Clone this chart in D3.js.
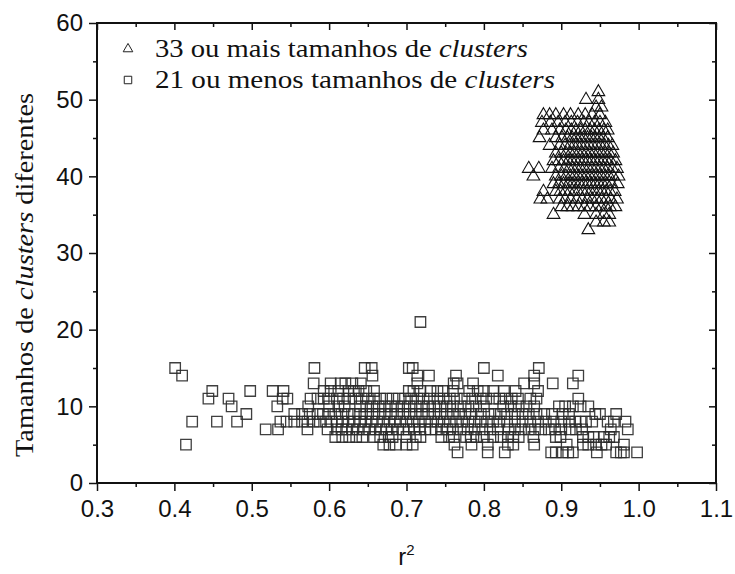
<!DOCTYPE html>
<html>
<head>
<meta charset="utf-8">
<script src="https://cdn.jsdelivr.net/npm/d3@7"></script>
<style>
  body { margin: 0; background: #fff; }
  .tick text { font-family: 'Liberation Sans', Arial, sans-serif; font-size: 24px; fill: #111; }
  .serif { font-family: 'Liberation Serif', 'Times New Roman', serif; fill: #111; }
</style>
</head>
<body>
<svg id="chart"></svg>
<script>
// cluster counts (y) and the r2 values (x) of every run, grouped by count
const squareSizes = [4, 5, 6, 7, 8, 9, 10, 11, 12, 13, 14, 15, 21];
const squareR2 = [
  [0.766, 0.805, 0.827, 0.887, 0.893, 0.902, 0.909, 0.915, 0.946, 0.971, 0.977, 0.981, 0.998],
  [0.415, 0.67, 0.678, 0.686, 0.700, 0.708, 0.762, 0.784, 0.805, 0.831, 0.838, 0.865, 0.907, 0.928, 0.935, 0.945, 0.952, 0.958, 0.981],
  [0.608, 0.617, 0.626, 0.635, 0.643, 0.658, 0.666, 0.677, 0.682, 0.700, 0.712, 0.718, 0.745, 0.755, 0.761, 0.777, 0.783, 0.790, 0.800, 0.812, 0.822, 0.831, 0.838, 0.845, 0.864, 0.893, 0.899, 0.928, 0.935, 0.942, 0.955, 0.962, 0.968],
  [0.518, 0.534, 0.572, 0.598, 0.610, 0.616, 0.622, 0.630, 0.637, 0.645, 0.652, 0.660, 0.667, 0.674, 0.681, 0.689, 0.696, 0.703, 0.710, 0.717, 0.724, 0.731, 0.738, 0.746, 0.753, 0.760, 0.770, 0.779, 0.788, 0.798, 0.808, 0.818, 0.832, 0.840, 0.848, 0.858, 0.866, 0.874, 0.884, 0.892, 0.900, 0.911, 0.919, 0.927, 0.964, 0.986],
  [0.423, 0.455, 0.481, 0.537, 0.545, 0.555, 0.565, 0.572, 0.580, 0.588, 0.596, 0.603, 0.610, 0.617, 0.625, 0.632, 0.640, 0.647, 0.655, 0.662, 0.670, 0.678, 0.685, 0.692, 0.700, 0.708, 0.716, 0.724, 0.732, 0.740, 0.748, 0.756, 0.764, 0.772, 0.780, 0.788, 0.796, 0.804, 0.812, 0.820, 0.830, 0.840, 0.850, 0.860, 0.870, 0.880, 0.890, 0.900, 0.910, 0.918, 0.925, 0.932, 0.940, 0.960, 0.968, 0.983],
  [0.493, 0.555, 0.565, 0.575, 0.585, 0.592, 0.600, 0.608, 0.616, 0.624, 0.632, 0.640, 0.648, 0.656, 0.664, 0.672, 0.680, 0.688, 0.696, 0.704, 0.712, 0.720, 0.728, 0.736, 0.744, 0.752, 0.760, 0.768, 0.776, 0.784, 0.796, 0.806, 0.814, 0.822, 0.830, 0.840, 0.850, 0.858, 0.868, 0.878, 0.888, 0.902, 0.910, 0.944, 0.950, 0.971],
  [0.474, 0.533, 0.573, 0.600, 0.612, 0.620, 0.640, 0.648, 0.656, 0.664, 0.672, 0.680, 0.688, 0.696, 0.704, 0.712, 0.720, 0.728, 0.736, 0.744, 0.752, 0.760, 0.770, 0.780, 0.790, 0.800, 0.825, 0.835, 0.845, 0.855, 0.865, 0.897, 0.905, 0.915, 0.925, 0.935],
  [0.444, 0.470, 0.540, 0.546, 0.576, 0.585, 0.593, 0.600, 0.610, 0.618, 0.626, 0.634, 0.642, 0.650, 0.658, 0.666, 0.674, 0.682, 0.690, 0.698, 0.706, 0.714, 0.722, 0.730, 0.740, 0.748, 0.756, 0.765, 0.775, 0.785, 0.796, 0.803, 0.812, 0.820, 0.828, 0.836, 0.844, 0.860, 0.868, 0.922],
  [0.449, 0.498, 0.527, 0.541, 0.593, 0.602, 0.612, 0.625, 0.632, 0.638, 0.648, 0.658, 0.703, 0.709, 0.718, 0.731, 0.740, 0.748, 0.760, 0.781, 0.792, 0.800, 0.812, 0.826, 0.841, 0.870],
  [0.580, 0.602, 0.615, 0.621, 0.630, 0.641, 0.714, 0.761, 0.766, 0.786, 0.852, 0.865, 0.889, 0.915],
  [0.410, 0.656, 0.714, 0.729, 0.764, 0.818, 0.865, 0.922],
  [0.401, 0.581, 0.646, 0.655, 0.703, 0.708, 0.800, 0.871],
  [0.718]
];

const triangleSizes = [33, 34, 35, 36, 37, 38, 39, 40, 41, 42, 43, 44, 45, 46, 47, 48, 49, 50, 51];
const triangleR2 = [
  [0.935],
  [0.945, 0.955, 0.962],
  [0.890, 0.930, 0.945, 0.955, 0.962],
  [0.900, 0.908, 0.915, 0.922, 0.930, 0.937, 0.945, 0.952, 0.958, 0.963, 0.970],
  [0.873, 0.882, 0.898, 0.905, 0.912, 0.920, 0.927, 0.934, 0.940, 0.946, 0.952, 0.958, 0.964, 0.972],
  [0.877, 0.893, 0.899, 0.905, 0.911, 0.917, 0.922, 0.928, 0.933, 0.938, 0.943, 0.948, 0.953, 0.958, 0.963, 0.969],
  [0.890, 0.897, 0.903, 0.909, 0.914, 0.919, 0.924, 0.929, 0.934, 0.939, 0.944, 0.949, 0.954, 0.959, 0.965, 0.973],
  [0.864, 0.893, 0.900, 0.906, 0.912, 0.917, 0.922, 0.927, 0.932, 0.937, 0.942, 0.947, 0.952, 0.957, 0.962, 0.967, 0.974],
  [0.858, 0.871, 0.888, 0.897, 0.904, 0.910, 0.915, 0.920, 0.925, 0.930, 0.935, 0.940, 0.945, 0.950, 0.955, 0.960, 0.966, 0.972],
  [0.890, 0.897, 0.903, 0.909, 0.914, 0.919, 0.924, 0.929, 0.934, 0.939, 0.944, 0.949, 0.954, 0.959, 0.964, 0.970],
  [0.893, 0.900, 0.906, 0.912, 0.917, 0.922, 0.927, 0.932, 0.937, 0.942, 0.947, 0.952, 0.957, 0.962, 0.967],
  [0.885, 0.898, 0.905, 0.911, 0.916, 0.921, 0.926, 0.931, 0.936, 0.941, 0.946, 0.951, 0.956, 0.961, 0.966],
  [0.872, 0.893, 0.901, 0.908, 0.914, 0.919, 0.924, 0.929, 0.934, 0.939, 0.944, 0.949, 0.954, 0.960],
  [0.877, 0.888, 0.898, 0.906, 0.913, 0.919, 0.925, 0.931, 0.937, 0.943, 0.949, 0.955, 0.960],
  [0.875, 0.886, 0.896, 0.905, 0.913, 0.921, 0.929, 0.936, 0.943, 0.950, 0.957],
  [0.877, 0.885, 0.893, 0.903, 0.912, 0.922, 0.931, 0.940, 0.950],
  [0.945, 0.952],
  [0.932, 0.948],
  [0.948]
];

const xTicks = [0.3, 0.4, 0.5, 0.6, 0.7, 0.8, 0.9, 1.0, 1.1];
const yTicks = [0, 10, 20, 30, 40, 50, 60];
const legendLabels = ['33 ou mais tamanhos de ', '21 ou menos tamanhos de '];

const width = 735, height = 574;
const margin = { top: 23, right: 19, bottom: 91, left: 97 };
const innerW = width - margin.left - margin.right;
const innerH = height - margin.top - margin.bottom;

const svg = d3.select('#chart').attr('width', width).attr('height', height);
svg.append('rect').attr('width', width).attr('height', height).attr('fill', '#fff');

const g = svg.append('g').attr('transform', `translate(${margin.left},${margin.top})`);

const x = d3.scaleLinear().domain([0.3, 1.1]).range([0, innerW]);
const y = d3.scaleLinear().domain([0, 60]).range([innerH, 0]);

const xMinor = d3.range(0.35, 1.1, 0.1);
const yMinor = d3.range(5, 60, 10);

// points
const squares = squareSizes.flatMap((s, i) => squareR2[i].map(r => ({ r2: r, n: s })));
const triangles = triangleSizes.flatMap((s, i) => triangleR2[i].map(r => ({ r2: r, n: s })));

g.selectAll('.sq')
  .data(squares)
  .join('path')
  .attr('class', 'sq')
  .attr('d', d3.symbol(d3.symbolSquare, 110))
  .attr('transform', d => `translate(${x(d.r2)},${y(d.n)})`)
  .attr('fill', 'none')
  .attr('stroke', '#2a2a2a')
  .attr('stroke-opacity', 0.9)
  .attr('stroke-width', 1.3);

g.selectAll('.tri')
  .data(triangles)
  .join('path')
  .attr('class', 'tri')
  .attr('d', d3.symbol(d3.symbolTriangle, 70))
  .attr('transform', d => `translate(${x(d.r2)},${y(d.n)})`)
  .attr('fill', 'none')
  .attr('stroke', '#111')
  .attr('stroke-width', 1.1);

// axes
function styleAxis(sel) {
  sel.select('.domain').remove();
  sel.selectAll('line').attr('stroke', '#111').attr('stroke-width', 1.5);
}

g.append('g').attr('transform', `translate(0,${innerH})`)
  .call(d3.axisBottom(x).tickValues(xTicks).tickFormat(d3.format('.1f')).tickSize(8).tickPadding(9))
  .call(styleAxis);
g.append('g').attr('transform', `translate(0,${innerH})`)
  .call(d3.axisBottom(x).tickValues(xMinor).tickFormat('').tickSize(4))
  .call(styleAxis);
g.append('g')
  .call(d3.axisTop(x).tickValues(xTicks).tickFormat('').tickSize(-7))
  .call(styleAxis);
g.append('g')
  .call(d3.axisTop(x).tickValues(xMinor).tickFormat('').tickSize(-4))
  .call(styleAxis);

g.append('g')
  .call(d3.axisLeft(y).tickValues(yTicks).tickFormat(d3.format('d')).tickSize(8).tickPadding(6))
  .call(styleAxis);
g.append('g')
  .call(d3.axisLeft(y).tickValues(yMinor).tickFormat('').tickSize(4))
  .call(styleAxis);
g.append('g').attr('transform', `translate(${innerW},0)`)
  .call(d3.axisRight(y).tickValues(yTicks).tickFormat('').tickSize(-7))
  .call(styleAxis);
g.append('g').attr('transform', `translate(${innerW},0)`)
  .call(d3.axisRight(y).tickValues(yMinor).tickFormat('').tickSize(-4))
  .call(styleAxis);

g.append('rect')
  .attr('width', innerW).attr('height', innerH)
  .attr('fill', 'none').attr('stroke', '#111').attr('stroke-width', 2);

// axis titles
const xTitle = svg.append('text')
  .attr('x', margin.left + innerW / 2).attr('y', 565)
  .attr('text-anchor', 'middle')
  .style('font-family', "'Liberation Sans', Arial, sans-serif")
  .style('font-size', '24px').attr('fill', '#111');
xTitle.append('tspan').text('r');
xTitle.append('tspan').attr('dy', -10).style('font-size', '15px').text('2');

const yTitle = svg.append('text')
  .attr('class', 'serif')
  .attr('transform', `translate(33,${margin.top + innerH / 2 + 22}) rotate(-90)`)
  .attr('text-anchor', 'middle')
  .attr('textLength', 364)
  .attr('lengthAdjust', 'spacingAndGlyphs')
  .style('font-size', '25px');
yTitle.append('tspan').text('Tamanhos de ');
yTitle.append('tspan').style('font-style', 'italic').text('clusters');
yTitle.append('tspan').text(' diferentes');

// legend
const legend = svg.append('g').attr('transform', 'translate(128,0)');
const legendSymbols = [d3.symbolTriangle, d3.symbolSquare];
const legendY = [49, 80];
const legendWidths = [373, 400];
legendLabels.forEach((lab, i) => {
  legend.append('path')
    .attr('d', d3.symbol(legendSymbols[i], i === 0 ? 40 : 56))
    .attr('transform', `translate(0,${legendY[i]})`)
    .attr('fill', 'none').attr('stroke', '#222').attr('stroke-width', 1);
  const t = legend.append('text')
    .attr('class', 'serif')
    .attr('x', 27).attr('y', legendY[i] + 8)
    .attr('textLength', legendWidths[i])
    .attr('lengthAdjust', 'spacingAndGlyphs')
    .style('font-size', '25px');
  t.append('tspan').text(lab);
  t.append('tspan').style('font-style', 'italic').text('clusters');
});
</script>
</body>
</html>
